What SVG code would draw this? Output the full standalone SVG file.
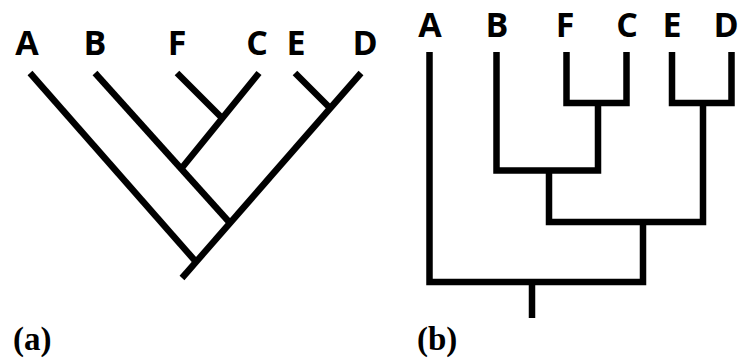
<svg xmlns="http://www.w3.org/2000/svg" width="740" height="360" viewBox="0 0 740 360">
<style>
.lbl{font-family:"Open Sans","Liberation Sans",sans-serif;font-weight:700;font-size:34px;text-anchor:middle;fill:#000}
.cap{font-family:"Liberation Serif","Times New Roman",serif;font-weight:700;font-size:33px;fill:#000}
.edge{fill:none;stroke:#000;stroke-width:6.5;stroke-linecap:butt;stroke-linejoin:miter}
</style>
<rect width="740" height="360" fill="#fff"/>
<g id="tree-a">
  <g id="a-labels">
    <text class="lbl" x="27" y="55">A</text>
    <text class="lbl" x="95" y="55">B</text>
    <text class="lbl" x="177" y="55">F</text>
    <text class="lbl" x="257" y="55">C</text>
    <text class="lbl" x="296" y="55">E</text>
    <text class="lbl" x="365" y="55">D</text>
  </g>
  <g id="a-connectors">
    <line class="edge" x1="30" y1="73" x2="197" y2="263"/>
    <line class="edge" x1="95" y1="73" x2="230" y2="223"/>
    <line class="edge" x1="177" y1="73" x2="222" y2="118"/>
    <line class="edge" x1="259" y1="73" x2="181" y2="169"/>
    <line class="edge" x1="295" y1="73" x2="331" y2="109"/>
    <line class="edge" x1="361" y1="73" x2="182" y2="278"/>
  </g>
  <text class="cap" x="13" y="350">(a)</text>
</g>
<g id="tree-b">
  <g id="b-labels">
    <text class="lbl" x="430" y="37">A</text>
    <text class="lbl" x="497" y="37">B</text>
    <text class="lbl" x="565" y="37">F</text>
    <text class="lbl" x="627" y="37">C</text>
    <text class="lbl" x="672" y="37">E</text>
    <text class="lbl" x="726" y="37">D</text>
  </g>
  <g id="b-connectors">
    <path class="edge" d="M429.5 52 V282 H643 V222"/>
    <path class="edge" d="M566.5 52 V103 H626.5 V52"/>
    <path class="edge" d="M672 52 V103 H731.5 V52"/>
    <path class="edge" d="M496.5 52 V170.5 H598 V103"/>
    <path class="edge" d="M549 170.5 V222 H703 V103"/>
    <path class="edge" d="M532 282 V318"/>
  </g>
  <text class="cap" x="417" y="350">(b)</text>
</g>
</svg>
